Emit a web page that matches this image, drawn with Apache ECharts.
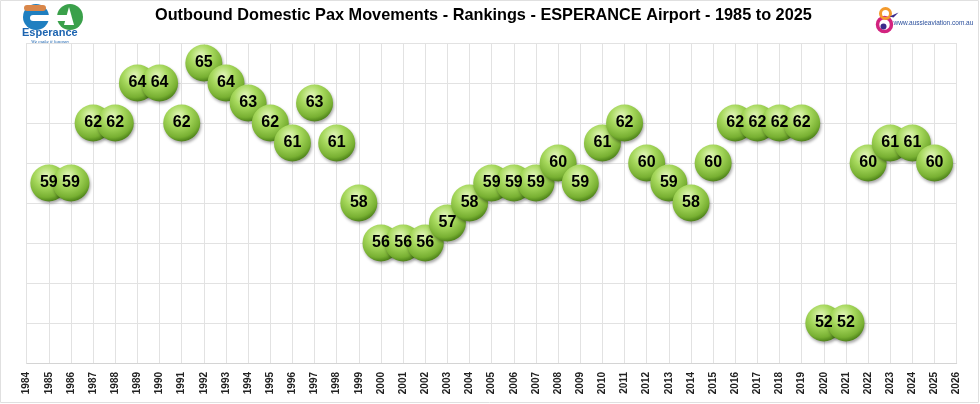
<!DOCTYPE html>
<html>
<head>
<meta charset="utf-8">
<script src="https://cdn.jsdelivr.net/npm/echarts@6/dist/echarts.min.js"></script>
<style>
    html, body { margin: 0; padding: 0; background: #fff; }
    #chart { width: 980px; height: 404px; }
</style>
</head>
<body>
<div id="chart"></div>
<script>
// 年份
var years = [1985, 1986, 1987, 1988, 1989, 1990, 1991, 1992, 1993, 1994,
    1995, 1996, 1997, 1998, 1999, 2000, 2001, 2002, 2003, 2004,
    2005, 2006, 2007, 2008, 2009, 2010, 2011, 2012, 2013, 2014,
    2015, 2016, 2017, 2018, 2019, 2020, 2021, 2022, 2023, 2024, 2025]
// 排名
var rankings = [59, 59, 62, 62, 64, 64, 62, 65, 64, 63,
    62, 61, 63, 61, 58, 56, 56, 56, 57, 58,
    59, 59, 59, 60, 59, 61, 62, 60, 59, 58,
    60, 62, 62, 62, 62, 52, 52, 60, 61, 61, 60]

var chartTitle = 'Outbound Domestic Pax Movements - Rankings - ESPERANCE Airport - 1985 to 2025'

var points = years.map(function (y, i) {
    return [y, rankings[i]]
})

var bubbleColor = new echarts.graphic.RadialGradient(0.42, 0.3, 0.75, [
    {offset: 0, color: '#e4f7bd'},
    {offset: 0.4, color: '#a6d85c'},
    {offset: 0.78, color: '#78b032'},
    {offset: 0.93, color: '#4f841a'},
    {offset: 1, color: '#7aa83c'}
])

var myChart = echarts.init(document.getElementById('chart'))
var option = {
    animation: false,
    title: {
        text: chartTitle,
        left: 150,
        top: 3,
        textStyle: {
            fontFamily: 'Liberation Sans',
            fontSize: 16.3,
            fontWeight: 'bold',
            color: '#000'
        }
    },
    grid: {
        left: 26.7,
        right: 23.3,
        top: 43,
        bottom: 41
    },
    xAxis: {
        type: 'value',
        min: 1984,
        max: 2026,
        interval: 1,
        axisLine: {lineStyle: {color: '#d4d4d4'}},
        axisTick: {show: false},
        axisLabel: {
            rotate: 90,
            margin: 9,
            formatter: function (v) { return String(v) },
            fontFamily: 'Liberation Sans',
            fontSize: 10,
            fontWeight: 'bold',
            color: '#222'
        },
        splitLine: {lineStyle: {color: '#e2e2e2'}}
    },
    yAxis: {
        type: 'value',
        min: 50,
        max: 66,
        interval: 2,
        axisLine: {show: false},
        axisTick: {show: false},
        axisLabel: {show: false},
        splitLine: {lineStyle: {color: '#e2e2e2'}}
    },
    series: [
        {
            type: 'scatter',
            symbol: 'circle',
            symbolSize: 37,
            data: points,
            itemStyle: {
                color: bubbleColor,
                opacity: 1,
                shadowColor: 'rgba(0,0,0,0.35)',
                shadowBlur: 3,
                shadowOffsetX: 1,
                shadowOffsetY: 2
            },
            label: {
                show: true,
                position: 'inside',
                formatter: function (p) { return p.value[1] },
                fontFamily: 'Liberation Sans',
                fontSize: 16,
                fontWeight: 'bold',
                color: '#000',
                opacity: 1,
                textBorderWidth: 0
            }
        }
    ],
    graphic: [
        // 外边框
        {
            type: 'rect',
            shape: {x: 0.5, y: 0.5, width: 978, height: 402},
            style: {fill: 'none', stroke: '#e0e0e0', lineWidth: 1},
            silent: true
        },
        // 左上角 Esperance 标志
        {
            type: 'group',
            left: 22,
            top: 4,
            children: [
                {
                    type: 'circle',
                    shape: {cx: 20, cy: 14, r: 13},
                    style: {fill: '#1f7fc0'}
                },
                {
                    type: 'rect',
                    shape: {x: 8, y: 2, width: 22, height: 6, r: 3},
                    style: {fill: '#d9874a'}
                },
                {
                    type: 'circle',
                    shape: {cx: 54, cy: 14, r: 13},
                    style: {fill: '#3aa04a'}
                },
                {
                    type: 'polygon',
                    shape: {points: [[48, 22], [53, 4], [58, 22]]},
                    style: {fill: '#ffffff'}
                },
                {
                    type: 'rect',
                    shape: {x: 14, y: 12, width: 40, height: 6, r: 3},
                    style: {fill: '#ffffff'}
                },
                {
                    type: 'text',
                    style: {
                        x: 6, y: 24,
                        text: 'Esperance',
                        fontFamily: 'Liberation Sans',
                        fontWeight: 'bold',
                        fontSize: 11,
                        fill: '#1c64b0'
                    }
                },
                {
                    type: 'text',
                    style: {
                        x: 15, y: 36,
                        text: 'We make it happen',
                        fontFamily: 'Liberation Serif',
                        fontStyle: 'italic',
                        fontSize: 5,
                        fill: '#1c64b0'
                    }
                }
            ]
        },
        // 右上角 aussieaviation 标志
        {
            type: 'group',
            left: 875,
            top: 6,
            children: [
                {
                    type: 'circle',
                    shape: {cx: 9, cy: 19, r: 7},
                    style: {fill: 'none', stroke: '#d2237f', lineWidth: 3.5}
                },
                {
                    type: 'circle',
                    shape: {cx: 10, cy: 8, r: 5},
                    style: {fill: 'none', stroke: '#f39a2c', lineWidth: 3}
                },
                {
                    type: 'circle',
                    shape: {cx: 8, cy: 21, r: 3},
                    style: {fill: '#3b2a8c'}
                },
                {
                    type: 'polygon',
                    shape: {points: [[14, 11], [23, 7], [18, 12]]},
                    style: {fill: '#3b2a8c'}
                },
                {
                    type: 'text',
                    style: {
                        x: 18, y: 14,
                        text: 'www.aussieaviation.com.au',
                        fontFamily: 'Liberation Sans',
                        fontSize: 6.5,
                        fill: '#2a4f9c'
                    }
                }
            ]
        }
    ]
}
myChart.setOption(option)
</script>
</body>
</html>
